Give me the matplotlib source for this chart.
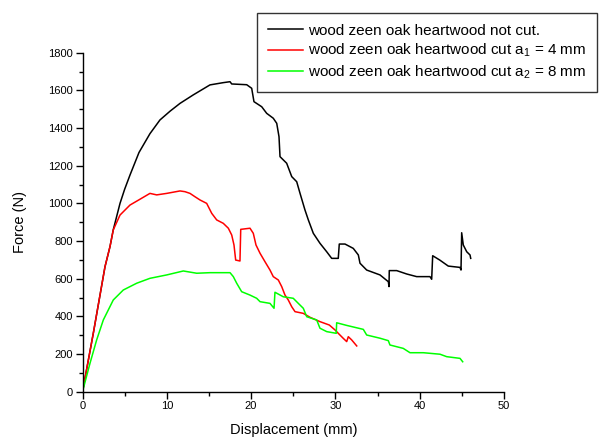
import matplotlib
matplotlib.use("Agg")
import matplotlib.pyplot as plt
from matplotlib.ticker import MultipleLocator

plt.rcParams['font.family'] = ['Liberation Sans', 'DejaVu Sans']
plt.rcParams['mathtext.fontset'] = 'custom'
plt.rcParams['mathtext.rm'] = 'Liberation Sans'
plt.rcParams['mathtext.it'] = 'Liberation Sans'
plt.rcParams['mathtext.default'] = 'regular'

# ---- data ----
x_notcut = [0, 1.28, 2.67, 3.26, 3.65, 4.45, 5.0, 5.63, 6.7, 8.0, 9.19, 10.4, 11.57, 13.14,
            15.12, 16.7, 17.5, 17.7, 19.48, 20.07, 20.34, 21.26, 21.85, 22.63, 23.04,
            23.31, 23.43, 24.22, 24.82, 25.41, 25.8, 26.39, 26.79, 27.38, 28.17, 28.97,
            29.56, 30.34, 30.46, 31.14, 32.12, 32.72, 32.92, 33.71, 35.29, 36.28, 36.36,
            36.39, 37.27, 38.46, 39.64, 41.22, 41.42, 41.54, 42.38, 43.39, 44.78, 44.9,
            44.98, 45.17, 45.58, 45.97, 46.05]
f_notcut = [0, 310, 664, 770, 860, 1000, 1075, 1150, 1270, 1370, 1443, 1490, 1531, 1576,
            1629, 1641, 1646, 1634, 1630, 1611, 1540, 1513, 1478, 1452, 1425,
            1354, 1248, 1213, 1142, 1115, 1054, 965, 912, 841, 788, 743,
            708, 708, 784, 784, 761, 726, 682, 646, 620, 584, 558,
            643, 643, 625, 611, 611, 597, 722, 699, 667, 660, 646,
            844, 779, 743, 726, 708]

x_cut4 = [0, 1.28, 2.67, 3.26, 3.65, 4.45, 5.63, 6.82, 8.0, 8.8, 9.99, 11.57, 12.16,
          12.75, 13.35, 13.94, 14.73, 15.33, 15.92, 16.7, 17.3, 17.7, 17.97, 18.17,
          18.68, 18.77, 19.87, 20.26, 20.58, 21.06, 21.65, 22.24, 22.63, 23.23, 23.63,
          24.02, 24.41, 24.82, 25.21, 26.19, 26.99, 28.17, 29.28, 29.95, 30.34, 30.94,
          31.34, 31.53, 31.93, 32.53]
f_cut4 = [0, 310, 664, 770, 859, 938, 991, 1022, 1053, 1045, 1053, 1066, 1062,
          1053, 1035, 1018, 1000, 947, 912, 894, 868, 832, 779, 699,
          694, 862, 868, 841, 779, 735, 690, 646, 611, 593, 558,
          513, 487, 451, 425, 416, 395, 372, 354, 328, 310, 283,
          266, 292, 275, 243]

x_cut8 = [0, 0.89, 1.68, 2.47, 3.65, 4.84, 6.43, 8.0, 9.99, 11.96, 13.55, 15.12, 17.5,
          17.89, 18.29, 18.88, 19.87, 20.66, 21.06, 22.24, 22.72, 22.83, 23.82, 25.0,
          25.6, 26.19, 26.6, 27.78, 28.17, 28.97, 30.1, 30.15, 31.34, 33.31, 33.71,
          35.29, 36.28, 36.47, 38.05, 38.85, 40.43, 42.41, 43.2, 44.78, 45.1]
f_cut8 = [0, 151, 275, 381, 487, 540, 576, 602, 620, 641, 629, 632, 632,
          611, 576, 531, 513, 496, 478, 469, 443, 528, 504, 496,
          469, 443, 398, 381, 337, 319, 310, 366, 352, 331, 301,
          284, 271, 248, 230, 207, 207, 199, 186, 177, 159]

labels = ['wood zeen oak heartwood not cut.',
          'wood zeen oak heartwood cut a$_1$ = 4 mm',
          'wood zeen oak heartwood cut a$_2$ = 8 mm']
colors = ['#000000', '#ff0000', '#00ff00']

x_ticks = [0, 10, 20, 30, 40, 50]
y_ticks = [0, 200, 400, 600, 800, 1000, 1200, 1400, 1600, 1800]

# ---- figure ----
fig = plt.figure(figsize=(6, 4.41), dpi=100)
ax = fig.add_axes([82.5 / 600, 1 - 391.7 / 441, (504 - 82.5) / 600, (391.7 - 52.7) / 441])

lines = []
for xs, fs, c, lab in zip([x_notcut, x_cut4, x_cut8], [f_notcut, f_cut4, f_cut8], colors, labels):
    ln, = ax.plot(xs, fs, color=c, lw=1.1, label=lab)
    lines.append(ln)

ax.set_xlim(0, 50)
ax.set_ylim(0, 1800)
ax.set_xticks(x_ticks)
ax.set_yticks(y_ticks)
ax.xaxis.set_minor_locator(MultipleLocator(5))
ax.yaxis.set_minor_locator(MultipleLocator(100))
ax.tick_params(which='major', direction='out', length=5, width=1, labelsize=8, pad=2)
ax.tick_params(which='minor', direction='out', length=3, width=1)
for s in ['top', 'right']:
    ax.spines[s].set_visible(False)
for s in ['left', 'bottom']:
    ax.spines[s].set_linewidth(1)

ax.set_xlabel('Displacement (mm)', fontsize=10.5, labelpad=8)
ax.set_ylabel('Force (N)', fontsize=10.5, labelpad=15)

leg = fig.legend(handles=lines, loc='upper left', bbox_to_anchor=(257 / 600, 1 - 13 / 441),
                 bbox_transform=fig.transFigure, borderaxespad=0, fontsize=11,
                 frameon=True, fancybox=False, edgecolor='black', labelspacing=0.28,
                 handlelength=2.3, handletextpad=0.33, borderpad=0.7)
leg.get_frame().set_linewidth(1)

fig.savefig('out.png', dpi=100)
